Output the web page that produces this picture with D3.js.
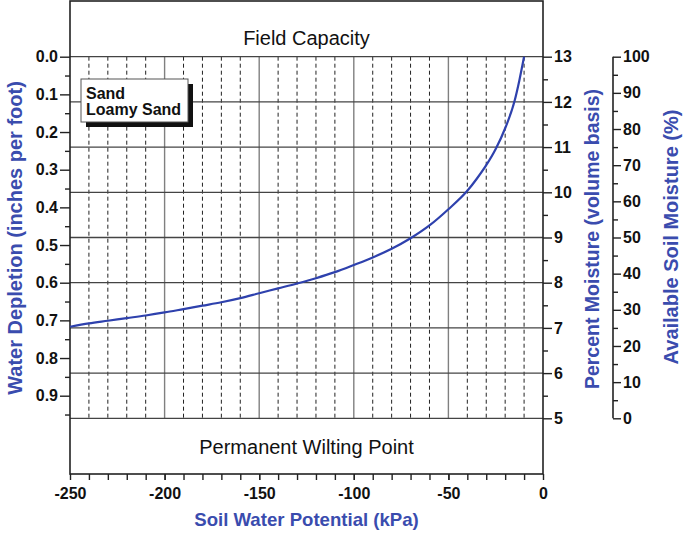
<!DOCTYPE html>
<html>
<head>
<meta charset="utf-8">
<script src="https://cdn.jsdelivr.net/npm/d3@7"></script>
<style>
  body { margin: 0; background: #fff; }
  text { font-family: "Liberation Sans", Arial, sans-serif; }
</style>
</head>
<body>
<div id="chart"></div>
<script>
// curve: soil water potential (kPa) vs water depletion (in/ft)
const potential = [-250, -240, -230, -220, -210, -200, -190, -180, -170, -160, -150,
  -140, -130, -120, -110, -100, -90, -80, -70, -60, -50, -40, -35, -30, -25, -20, -15, -12.5, -10];
const depletion = [0.717, 0.708, 0.701, 0.694, 0.687, 0.679, 0.670, 0.661, 0.652, 0.641, 0.628,
  0.615, 0.602, 0.588, 0.572, 0.553, 0.533, 0.510, 0.482, 0.448, 0.405, 0.356, 0.324, 0.288, 0.245, 0.190, 0.117, 0.063, 0.0];

const potentialTicks = [-250, -200, -150, -100, -50, 0];
const depletionTicks = [0, 0.1, 0.2, 0.3, 0.4, 0.5, 0.6, 0.7, 0.8, 0.9];
const moistureTicks = [5, 6, 7, 8, 9, 10, 11, 12, 13];
const availableTicks = [0, 10, 20, 30, 40, 50, 60, 70, 80, 90, 100];
const legendLines = ["Sand", "Loamy Sand"];

const width = 685, height = 535;
const blue = "#3a4cae";
const frame = {left: 70, right: 543, top: 1, bottom: 474};
const gridTop = 56.7, gridBottom = 418.3;

const svg = d3.select("#chart").append("svg")
  .attr("width", width)
  .attr("height", height);

const x = d3.scaleLinear([-250, 0], [frame.left, frame.right]);
const yDep = d3.scaleLinear([0, 0.96], [gridTop, gridBottom]);
const yPm = d3.scaleLinear([5, 13], [gridBottom, gridTop]);
const yAv = d3.scaleLinear([0, 100], [gridBottom, gridTop]);

// vertical grid: dashed every 10 kPa, solid every 50
const vLines = d3.range(-240, 0, 10);
svg.append("g").selectAll("line")
  .data(vLines)
  .join("line")
  .attr("x1", d => x(d)).attr("x2", d => x(d))
  .attr("y1", gridTop).attr("y2", gridBottom)
  .attr("stroke", d => d % 50 === 0 ? "#808080" : "#222")
  .attr("stroke-width", d => d % 50 === 0 ? 1.4 : 1)
  .attr("stroke-dasharray", d => d % 50 === 0 ? null : "4,3");

// horizontal grid at each percent moisture step
svg.append("g").selectAll("line")
  .data(moistureTicks)
  .join("line")
  .attr("x1", frame.left).attr("x2", frame.right)
  .attr("y1", d => yPm(d)).attr("y2", d => yPm(d))
  .attr("stroke", "#444")
  .attr("stroke-width", 1.3);

// frame
svg.append("rect")
  .attr("x", frame.left).attr("y", frame.top)
  .attr("width", frame.right - frame.left)
  .attr("height", frame.bottom - frame.top)
  .attr("fill", "none")
  .attr("stroke", "#222")
  .attr("stroke-width", 1.6);

// curve
const line = d3.line()
  .x(d => x(d[0]))
  .y(d => yDep(d[1]))
  .curve(d3.curveMonotoneX);

svg.append("path")
  .datum(d3.zip(potential, depletion))
  .attr("d", line)
  .attr("fill", "none")
  .attr("stroke", "#2e41ad")
  .attr("stroke-width", 2.2);

// axis helper: minor ticks without labels, then major ticks with labels
function styleAxis(g) {
  g.select(".domain").remove();
  g.selectAll(".tick line").attr("stroke", "#222").attr("stroke-width", 1.4);
  g.selectAll(".tick text")
    .attr("fill", "#111")
    .attr("font-size", 16)
    .attr("font-weight", "bold");
}

// left axis: water depletion
svg.append("g")
  .attr("transform", `translate(${frame.left},0)`)
  .call(d3.axisLeft(yDep).tickValues(d3.range(0.05, 1, 0.1)).tickSize(5).tickFormat(""))
  .call(styleAxis);
svg.append("g")
  .attr("transform", `translate(${frame.left},0)`)
  .call(d3.axisLeft(yDep).tickValues(depletionTicks).tickSize(10).tickPadding(2).tickFormat(d => d.toFixed(1)))
  .call(styleAxis);

// bottom axis: soil water potential (plain hyphen, as in the original)
svg.append("g")
  .attr("transform", `translate(0,${frame.bottom})`)
  .call(d3.axisBottom(x).tickValues(d3.range(-240, 0, 10)).tickSize(6).tickFormat(""))
  .call(styleAxis);
svg.append("g")
  .attr("transform", `translate(0,${frame.bottom})`)
  .call(d3.axisBottom(x).tickValues(potentialTicks).tickSize(6).tickPadding(8).tickFormat(d => String(d)))
  .call(styleAxis);

// right axis: percent moisture
svg.append("g")
  .attr("transform", `translate(${frame.right},0)`)
  .call(d3.axisRight(yPm).tickValues(d3.range(5.5, 13, 1)).tickSize(5).tickFormat(""))
  .call(styleAxis);
svg.append("g")
  .attr("transform", `translate(${frame.right},0)`)
  .call(d3.axisRight(yPm).tickValues(moistureTicks).tickSize(9).tickPadding(2).tickFormat(d => String(d)))
  .call(styleAxis);

// far right axis: available soil moisture
const avX = 613;
svg.append("line")
  .attr("x1", avX).attr("x2", avX)
  .attr("y1", gridTop).attr("y2", gridBottom)
  .attr("stroke", "#222").attr("stroke-width", 1.6);
svg.append("g")
  .attr("transform", `translate(${avX},0)`)
  .call(d3.axisRight(yAv).tickValues(d3.range(5, 100, 10)).tickSize(5).tickFormat(""))
  .call(styleAxis);
svg.append("g")
  .attr("transform", `translate(${avX},0)`)
  .call(d3.axisRight(yAv).tickValues(availableTicks).tickSize(8).tickPadding(2).tickFormat(d => String(d)))
  .call(styleAxis);

// zone labels
const midX = (frame.left + frame.right) / 2;
svg.append("text")
  .attr("x", midX).attr("y", 45)
  .attr("text-anchor", "middle")
  .attr("font-size", 20)
  .attr("fill", "#111")
  .text("Field Capacity");
svg.append("text")
  .attr("x", midX).attr("y", 454)
  .attr("text-anchor", "middle")
  .attr("font-size", 20)
  .attr("fill", "#111")
  .text("Permanent Wilting Point");

// axis titles
function title(tx, ty, rot, size, label) {
  svg.append("text")
    .attr("transform", `translate(${tx},${ty}) rotate(${rot})`)
    .attr("text-anchor", "middle")
    .attr("font-size", size)
    .attr("font-weight", "bold")
    .attr("fill", blue)
    .text(label);
}
title(22, 238, -90, 20, "Water Depletion (inches per foot)");
title(599, 239, -90, 19.5, "Percent Moisture (volume basis)");
title(678, 237, -90, 20, "Available Soil Moisture (%)");
title(midX, 526, 0, 18.6, "Soil Water Potential (kPa)");

// legend box with drop shadow
const legend = svg.append("g").attr("transform", "translate(81,79)");
legend.append("rect")
  .attr("x", 5).attr("y", 5)
  .attr("width", 107).attr("height", 43)
  .attr("fill", "#111");
legend.append("rect")
  .attr("width", 107).attr("height", 43)
  .attr("fill", "#fff")
  .attr("stroke", "#555")
  .attr("stroke-width", 1);
legend.selectAll("text")
  .data(legendLines)
  .join("text")
  .attr("x", 5)
  .attr("y", (d, i) => 20 + i * 16)
  .attr("font-size", 16)
  .attr("font-weight", "bold")
  .attr("fill", "#111")
  .text(d => d);
</script>
</body>
</html>
